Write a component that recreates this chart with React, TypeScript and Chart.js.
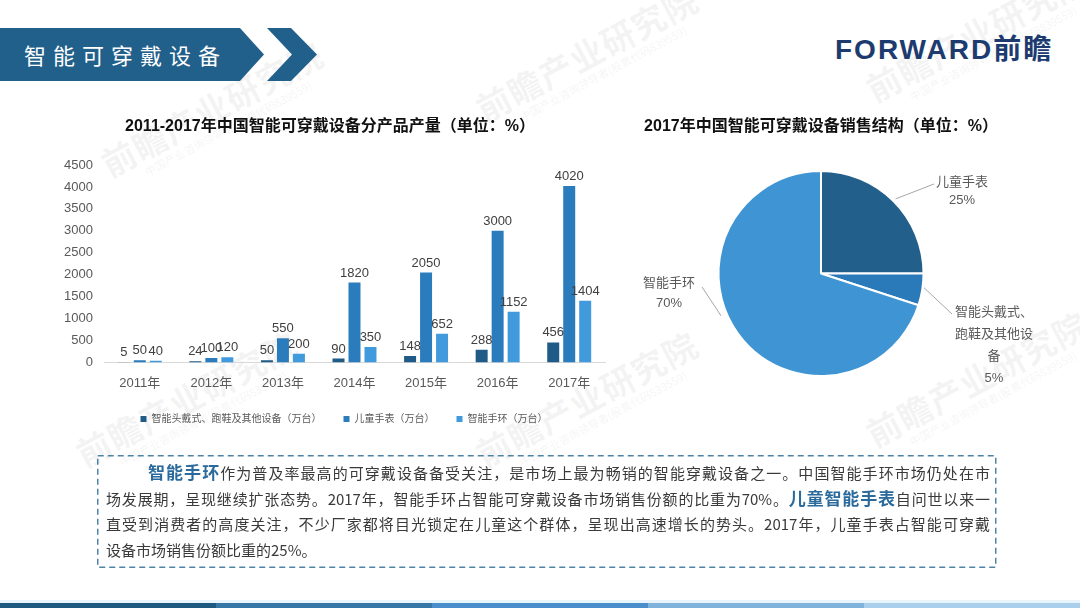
import React, { useEffect, useRef } from "react";
import { Chart, registerables } from "chart.js";
Chart.register(...registerables);

const FONT = "'Liberation Sans', 'Noto Sans CJK SC', sans-serif";
const CJK = "'Noto Sans CJK SC', 'Liberation Sans', sans-serif";

// ---- bar chart data ----
const barTitle = "2011-2017年中国智能可穿戴设备分产品产量（单位：%）";
const years = ["2011年", "2012年", "2013年", "2014年", "2015年", "2016年", "2017年"];
const headsetOther = [5, 24, 50, 90, 148, 288, 456];
const kidsWatch = [50, 100, 550, 1820, 2050, 3000, 4020];
const smartBand = [40, 120, 200, 350, 652, 1152, 1404];
const seriesNames = ["智能头戴式、跑鞋及其他设备（万台）", "儿童手表（万台）", "智能手环（万台）"];
const yMax = 4500;
const yStep = 500;

// ---- pie chart data ----
const pieTitle = "2017年中国智能可穿戴设备销售结构（单位：%）";
const pieNames = ["儿童手表", "智能头戴式、跑鞋及其他设备", "智能手环"];
const pieLabelLines = [["儿童手表"], ["智能头戴式、", "跑鞋及其他设", "备"], ["智能手环"]];
const pieValues = [25, 5, 70];

const barColors = ["#1f5b86", "#2b7cbd", "#419adb"];
const pieColors = ["#225f8b", "#2a79b9", "#3f95d4"];

const barValuePlugin = {
  id: "barValues",
  afterLayout(chart: any) {
    // nudge the legend row to sit under the plot like the original
    if (chart.legend) {
      chart.legend.left += 14;
      chart.legend.right += 14;
    }
  },
  afterDatasetsDraw(chart: any) {
    const ctx = chart.ctx;
    ctx.save();
    ctx.font = "13px " + FONT;
    ctx.fillStyle = "#404040";
    ctx.textAlign = "center";
    ctx.textBaseline = "bottom";
    chart.data.datasets.forEach((ds: any, di: number) => {
      const meta = chart.getDatasetMeta(di);
      meta.data.forEach((bar: any, i: number) => {
        ctx.fillText(String(ds.data[i]), bar.x, bar.y - 3);
      });
    });
    ctx.restore();
  },
};

// label placement relative to the pie centre (style only)
const PIE_LAYOUT = [
  { da: 0, dr: 3, lx: 113, ly: -89.5, tx: 141, ty: -91.5, lh: 18 },
  { da: -0.02, dr: 1.5, lx: 131, ly: 40.5, tx: 173, ty: 38.5, lh: 22 },
  { da: 0.227, dr: 6, lx: -119, ly: 13.5, tx: -152, ty: 9.5, lh: 20 },
];

const pieLabelPlugin = {
  id: "pieLabels",
  afterDatasetsDraw(chart: any) {
    const ctx = chart.ctx;
    const meta = chart.getDatasetMeta(0);
    ctx.save();
    ctx.font = "13px " + FONT;
    ctx.fillStyle = "#595959";
    ctx.strokeStyle = "#a6a6a6";
    ctx.lineWidth = 1;
    ctx.textAlign = "center";
    ctx.textBaseline = "middle";
    meta.data.forEach((arc: any, i: number) => {
      const p = arc.getProps(["x", "y", "outerRadius", "startAngle", "endAngle"], true);
      const L = PIE_LAYOUT[i];
      const a = (p.startAngle + p.endAngle) / 2 + L.da;
      const sx = p.x + Math.cos(a) * (p.outerRadius + L.dr);
      const sy = p.y + Math.sin(a) * (p.outerRadius + L.dr);
      ctx.beginPath();
      ctx.moveTo(sx, sy);
      ctx.lineTo(p.x + L.lx, p.y + L.ly);
      ctx.stroke();
      const lines = [...pieLabelLines[i], pieValues[i] + "%"];
      lines.forEach((t, k) => {
        ctx.fillText(t, p.x + L.tx, p.y + L.ty + k * L.lh);
      });
    });
    ctx.restore();
  },
};

function BarChart() {
  const ref = useRef<HTMLCanvasElement>(null);
  useEffect(() => {
    const datas = [headsetOther, kidsWatch, smartBand];
    const chart = new Chart(ref.current!, {
      type: "bar",
      data: {
        labels: years,
        datasets: datas.map((d, i) => ({
          label: seriesNames[i],
          data: d,
          backgroundColor: barColors[i],
          categoryPercentage: 0.67,
          barPercentage: 0.75,
        })),
      },
      options: {
        responsive: false,
        animation: false,
        layout: { padding: { left: 0, right: 16, top: 0, bottom: 0 } },
        plugins: {
          title: {
            display: true,
            text: barTitle,
            color: "#111",
            font: { size: 16, weight: "bold", family: FONT },
            padding: { top: 7.4, bottom: 28.4 },
          },
          legend: {
            position: "bottom",
            labels: {
              boxWidth: 6,
              boxHeight: 6,
              color: "#595959",
              font: { size: 10, family: FONT },
              padding: 22,
            },
          },
          tooltip: { enabled: false },
        },
        scales: {
          x: {
            grid: { display: false, drawTicks: false },
            border: { display: true, color: "#d9d9d9", width: 1 },
            ticks: { color: "#595959", font: { size: 13, family: FONT }, padding: 13.5 },
            afterFit(s: any) {
              s.height = s.height - 13;
            },
          },
          y: {
            min: 0,
            max: yMax,
            grid: { display: false, drawTicks: false },
            border: { display: false },
            ticks: {
              stepSize: yStep,
              color: "#595959",
              font: { size: 13, family: FONT },
              padding: 11,
              callback: (v: any) => String(v),
            },
            afterFit(s: any) {
              s.width = 49;
            },
          },
        },
      } as any,
      plugins: [barValuePlugin],
    });
    return () => chart.destroy();
  }, []);
  return (
    <canvas
      ref={ref}
      width={566}
      height={324}
      style={{ position: "absolute", left: 55, top: 110, width: 566, height: 324 }}
    />
  );
}

function PieChart() {
  const ref = useRef<HTMLCanvasElement>(null);
  useEffect(() => {
    const chart = new Chart(ref.current!, {
      type: "pie",
      data: {
        labels: pieNames,
        datasets: [
          {
            data: pieValues,
            backgroundColor: pieColors,
            borderColor: "#ffffff",
            borderWidth: 2,
            radius: 102.5,
          },
        ],
      },
      options: {
        responsive: false,
        animation: false,
        layout: { padding: { left: 2, right: 0, top: 0, bottom: 24 } },
        plugins: {
          title: {
            display: true,
            text: pieTitle,
            color: "#111",
            font: { size: 16, weight: "bold", family: FONT },
            padding: { top: 7.4, bottom: 34.4 },
          },
          legend: { display: false },
          tooltip: { enabled: false },
        },
      } as any,
      plugins: [pieLabelPlugin],
    });
    return () => chart.destroy();
  }, []);
  return (
    <canvas
      ref={ref}
      width={440}
      height={290}
      style={{ position: "absolute", left: 600, top: 110, width: 440, height: 290 }}
    />
  );
}

const watermarks = [
  { x: 95, y: 150 },
  { x: 470, y: 95 },
  { x: 860, y: 75 },
  { x: 70, y: 440 },
  { x: 470, y: 440 },
  { x: 860, y: 420 },
];

function Watermark({ x, y }: { x: number; y: number }) {
  return (
    <div
      style={{
        position: "absolute",
        left: x,
        top: y,
        transform: "rotate(-28deg)",
        transformOrigin: "left top",
        color: "rgba(160,160,160,0.12)",
        fontFamily: CJK,
        whiteSpace: "nowrap",
        pointerEvents: "none",
      }}
    >
      <div style={{ fontSize: 34, fontWeight: 700, lineHeight: "36px", letterSpacing: 1 }}>前瞻产业研究院</div>
      <div style={{ fontSize: 11, lineHeight: "14px", paddingLeft: 34 }}>中国产业咨询领导者(股票代码839559)</div>
    </div>
  );
}

const textLine: React.CSSProperties = {
  position: "absolute",
  height: 26,
  lineHeight: "26px",
  fontSize: 15,
  color: "#3a3a3a",
  fontFamily: CJK,
  whiteSpace: "nowrap",
  textAlign: "justify",
  textAlignLast: "justify" as any,
};

export default function App() {
  const bandColors = ["#1e5a80", "#3777a8", "#4a8fcc", "#80b3dc", "#a9cfec"];
  return (
    <div
      style={{
        position: "absolute",
        left: 0,
        top: 0,
        width: 1080,
        height: 608,
        overflow: "hidden",
        background: "#ffffff",
        fontFamily: CJK,
      }}
    >
      {watermarks.map((w, i) => (
        <Watermark key={i} x={w.x} y={w.y} />
      ))}
      <svg width={330} height={90} style={{ position: "absolute", left: 0, top: 0 }}>
        <polygon points="0,28 240,28 264,54.5 240,81 0,81" fill="#22608c" />
        <polygon points="267,28 291,28 317,54.5 291,81 267,81 292,54.5" fill="#22608c" />
      </svg>
      <div
        style={{
          position: "absolute",
          left: 24,
          top: 38,
          height: 32,
          lineHeight: "32px",
          fontSize: 22,
          letterSpacing: 7,
          color: "#ffffff",
          whiteSpace: "nowrap",
        }}
      >
        智能可穿戴设备
      </div>
      <div
        style={{
          position: "absolute",
          left: 835,
          top: 33,
          height: 34,
          lineHeight: "34px",
          fontSize: 28,
          fontWeight: 700,
          letterSpacing: 2,
          color: "#1d3b6f",
          fontFamily: FONT,
          whiteSpace: "nowrap",
        }}
      >
        FORWARD前瞻
      </div>

      <BarChart />
      <PieChart />

      <svg width={1080} height={608} style={{ position: "absolute", left: 0, top: 0, pointerEvents: "none" }}>
        <rect
          x={97.75}
          y={455.75}
          width={898}
          height={111.5}
          fill="none"
          stroke="#4f83a6"
          strokeWidth={1.5}
          strokeDasharray="6 4"
        />
      </svg>
      <div style={{ ...textLine, left: 148, top: 459, width: 842 }}>
        <span style={{ fontSize: 17, fontWeight: 700, color: "#2a6a9c" }}>智能手环</span>
        作为普及率最高的可穿戴设备备受关注，是市场上最为畅销的智能穿戴设备之一。中国智能手环市场仍处在市
      </div>
      <div style={{ ...textLine, left: 106, top: 485, width: 884 }}>
        场发展期，呈现继续扩张态势。2017年，智能手环占智能可穿戴设备市场销售份额的比重为70%。
        <span style={{ fontSize: 17, fontWeight: 700, color: "#2a6a9c" }}>儿童智能手表</span>
        自问世以来一
      </div>
      <div style={{ ...textLine, left: 106, top: 511, width: 884 }}>
        直受到消费者的高度关注，不少厂家都将目光锁定在儿童这个群体，呈现出高速增长的势头。2017年，儿童手表占智能可穿戴
      </div>
      <div style={{ ...textLine, left: 106, top: 537, width: 884, textAlign: "left", textAlignLast: "left" as any }}>
        设备市场销售份额比重的25%。
      </div>

      <div style={{ position: "absolute", left: 0, top: 600, width: 1080, height: 3, background: "#eaf5fb" }} />
      {bandColors.map((c, i) => (
        <div
          key={i}
          style={{ position: "absolute", left: i * 216, top: 603, width: 216, height: 5, background: c }}
        />
      ))}
    </div>
  );
}
